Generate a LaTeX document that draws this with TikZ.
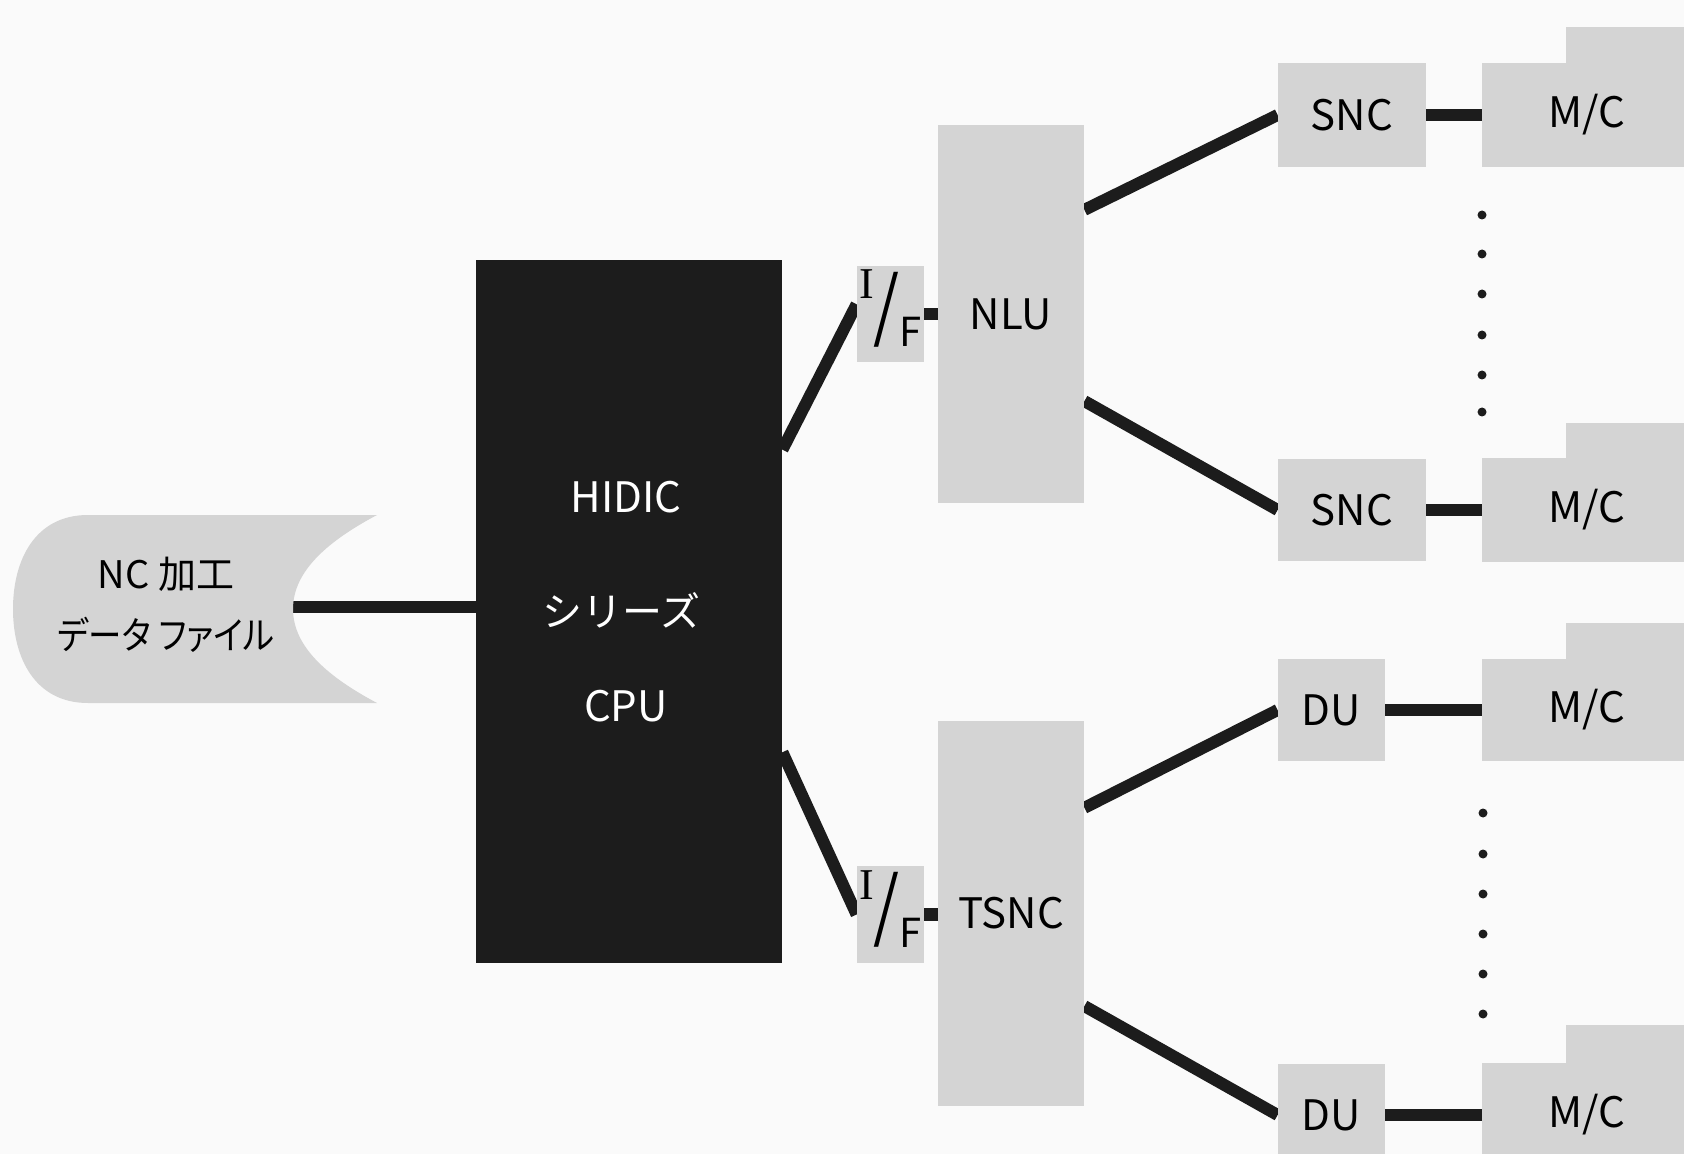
\documentclass[tikz,border=0pt]{standalone}
\usepackage{fontspec}
\usepackage{graphicx}
\setmainfont{Noto Sans CJK JP}
\newfontfamily\jpfont{Noto Sans CJK JP}[RawFeature=+palt]
\newfontfamily\seriffont{Liberation Serif}
\usetikzlibrary{calc,backgrounds}
\definecolor{boxgray}{RGB}{212,212,212}
\definecolor{cpublack}{RGB}{28,28,28}
\definecolor{paper}{RGB}{250,250,250}
% I over F with a long slash
\newcommand{\ifmark}{\rule[-22.25pt]{0pt}{44.5pt}%
	\raisebox{7.75pt}{\seriffont\fontsize{22}{24}\selectfont I}%
	\raisebox{-16.5pt}{\resizebox*{13pt}{37.5pt}{\raisebox{\depth}{/}}}%
	\raisebox{-16.3pt}{\fontsize{20}{24}\selectfont F}}

\begin{document}
\begin{tikzpicture}[x=0.5pt,y=0.5pt,yscale=-1,xscale=1,
	box/.style={fill=boxgray,draw=none,inner sep=0pt,font=\fontsize{21}{25}\selectfont},
	link/.style={line width=6pt,draw=cpublack,line cap=butt}]
	\useasboundingbox (0,0) rectangle (1684,1154); %diagram is 1684 wide and 1154 high
	
	%Shape: NC data file
	\fill[boxgray] (377,515) -- (88,515) .. controls (35,515) and (13,560) .. (13,609) .. controls (13,658) and (35,703) .. (88,703) -- (377,703) .. controls (330,678) and (293,648) .. (293,609) .. controls (293,570) and (330,540) .. (377,515) -- cycle;
	\coordinate (fileend) at (293,607);
	\node[align=center,font=\jpfont\fontsize{19}{30.5}\selectfont] (file) at (166,605) {NC 加工\\\scalebox{0.88}[1]{データ ファイル}};
	
	%Shape: Rectangle (CPU)
	\node[fill=cpublack,inner sep=0pt,minimum width=153pt,minimum height=351.5pt] (cpu) at (629,611.5) {};
	\node[text=white,font=\fontsize{21}{25}\selectfont] (hidic) at (626,497) {HIDIC};
	\node[text=white,font=\fontsize{20}{24}\selectfont] (series) at (621,610) {シリーズ};
	\node[text=white,font=\fontsize{21}{25}\selectfont] (cpulabel) at (626,706) {CPU};
	
	%Shape: Rectangle (I/F)
	\node[box,minimum width=33.5pt,minimum height=48pt] (if1) at (890.5,314) {\ifmark};
	\node[box,minimum width=33.5pt,minimum height=48.5pt] (if2) at (890.5,914.5) {\ifmark};
	
	%Shape: Rectangle (NLU, TSNC)
	\node[box,minimum width=73pt,minimum height=189pt] (nlu) at (1011,314) {NLU};
	\node[box,minimum width=73pt,minimum height=192.5pt] (tsnc) at (1011,913.5) {TSNC};
	
	%Shape: Rectangle (SNC, DU)
	\node[box,minimum width=74pt,minimum height=52pt] (snc1) at (1352,115) {SNC};
	\node[box,minimum width=74pt,minimum height=51pt] (snc2) at (1352,510) {SNC};
	\node[box,minimum width=53.5pt,minimum height=51pt] (du1) at (1331.5,710) {DU};
	\node[box,minimum width=53.5pt,minimum height=51pt] (du2) at (1331.5,1115) {DU};
	
	%Shape: Rectangle (M/C stacked)
	\fill[boxgray] (1566,27) rectangle (1700,80);
	\fill[boxgray] (1566,423) rectangle (1700,480);
	\fill[boxgray] (1566,623) rectangle (1700,680);
	\fill[boxgray] (1566,1025) rectangle (1700,1080);
	\node[box,minimum width=105pt,minimum height=52pt] (mc1) at (1587,115) {M/C};
	\node[box,minimum width=105pt,minimum height=52pt] (mc2) at (1587,510) {M/C};
	\node[box,minimum width=105pt,minimum height=51pt] (mc3) at (1587,710) {M/C};
	\node[box,minimum width=105pt,minimum height=52pt] (mc4) at (1587,1115) {M/C};
	
	%Dots
	\fill[cpublack] (1482,215) circle (4.5);
	\fill[cpublack] (1482,254) circle (4.5);
	\fill[cpublack] (1482,294) circle (4.5);
	\fill[cpublack] (1482,335) circle (4.5);
	\fill[cpublack] (1482,375) circle (4.5);
	\fill[cpublack] (1482,412) circle (4.5);
	\fill[cpublack] (1483,813) circle (4.5);
	\fill[cpublack] (1483,854) circle (4.5);
	\fill[cpublack] (1483,894) circle (4.5);
	\fill[cpublack] (1483,934) circle (4.5);
	\fill[cpublack] (1483,974) circle (4.5);
	\fill[cpublack] (1483,1014) circle (4.5);
	
	\begin{scope}[on background layer]
	\fill[paper] (0,0) rectangle (1684,1154);
	%Straight Lines
	\draw[link] (fileend) -- (fileend -| cpu.west);
	%Straight Lines
	\draw[link] ($(cpu.north east)!0.27!(cpu.south east)$) -- ($(if1.north west)!0.4!(if1.south west)$);
	%Straight Lines
	\draw[link] ($(cpu.north east)!0.70!(cpu.south east)$) -- (if2.west);
	%Straight Lines
	\draw[link] (if1.east) -- (if1.east -| nlu.west);
	%Straight Lines
	\draw[link,line width=6.5pt] (if2.east) -- (if2.east -| tsnc.west);
	%Straight Lines
	\draw[link] ($(nlu.north east)!0.225!(nlu.south east)$) -- (snc1.west);
	%Straight Lines
	\draw[link] ($(nlu.north east)!0.73!(nlu.south east)$) -- (snc2.west);
	%Straight Lines
	\draw[link] ($(tsnc.north east)!0.226!(tsnc.south east)$) -- (du1.west);
	%Straight Lines
	\draw[link] ($(tsnc.north east)!0.74!(tsnc.south east)$) -- (du2.west);
	%Straight Lines
	\draw[link] (snc1.east) -- (mc1.west);
	%Straight Lines
	\draw[link] (snc2.east) -- (mc2.west);
	%Straight Lines
	\draw[link] (du1.east) -- (mc3.west);
	%Straight Lines
	\draw[link] (du2.east) -- (mc4.west);
	\end{scope}
	
\end{tikzpicture}
\end{document}
